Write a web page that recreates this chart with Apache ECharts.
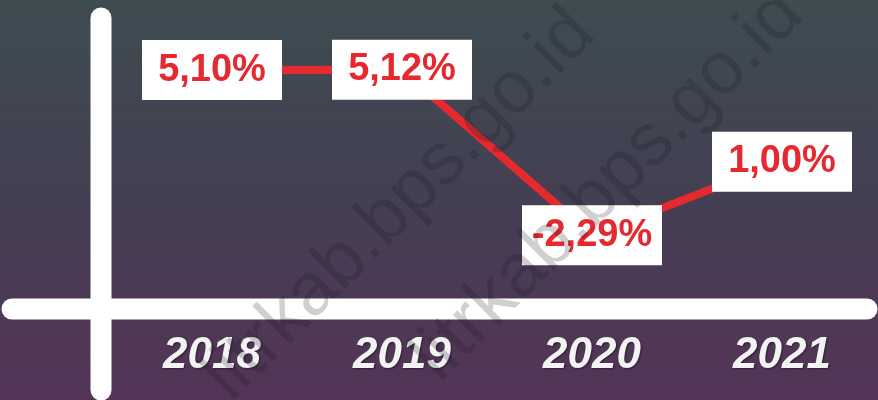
<!DOCTYPE html>
<html>
<head>
<meta charset="utf-8">
<script src="https://cdn.jsdelivr.net/npm/echarts@6/dist/echarts.min.js"></script>
<style>
  html, body { margin: 0; padding: 0; }
  #chart { width: 878px; height: 400px; }
</style>
</head>
<body>
<div id="chart"></div>
<script>
// pertumbuhan ekonomi (%)
var years = ['2018', '2019', '2020', '2021'];
var growth = [5.10, 5.12, -2.29, 1.00];
var watermark = 'litrkab.bps.go.id';

var myChart = echarts.init(document.getElementById('chart'));

function fmt(v) {
  return v.toFixed(2).replace('.', ',') + '%';
}

function wm(x, y) {
  return {
    type: 'text',
    z: 100,
    x: x,
    y: y,
    rotation: Math.PI / 4,
    style: {
      text: watermark,
      fontFamily: 'Liberation Sans',
      fontSize: 74,
      fill: 'rgba(20,20,30,0.2)',
      align: 'center',
      verticalAlign: 'middle'
    }
  };
}

var option = {
  animation: false,
  backgroundColor: new echarts.graphic.LinearGradient(0, 0, 0, 1, [
    { offset: 0, color: '#3d4c51' },
    { offset: 0.5, color: '#443f52' },
    { offset: 1, color: '#543457' }
  ]),
  grid: {
    left: 117,
    right: 1,
    top: 50,
    bottom: 149
  },
  xAxis: {
    type: 'category',
    data: years,
    axisLine: { show: false },
    axisTick: { show: false },
    splitLine: { show: false },
    axisLabel: {
      margin: 83,
      fontFamily: 'Liberation Sans',
      fontSize: 44,
      fontStyle: 'italic',
      fontWeight: 'bold',
      color: '#f3f3f3',
      textShadowColor: 'rgba(0,0,0,0.45)',
      textShadowBlur: 2,
      textShadowOffsetX: 1,
      textShadowOffsetY: 1
    }
  },
  yAxis: {
    type: 'value',
    min: -3,
    max: 6,
    show: false
  },
  series: [
    {
      type: 'line',
      data: growth,
      symbol: 'circle',
      symbolSize: 1,
      itemStyle: { color: '#e6292f' },
      lineStyle: { color: '#e6292f', width: 8 },
      label: {
        show: true,
        position: 'inside',
        formatter: function (p) { return fmt(p.value); },
        fontFamily: 'Liberation Sans',
        fontSize: 38,
        fontWeight: 'bold',
        color: '#e6292f',
        backgroundColor: '#ffffff',
        width: 118,
        align: 'center',
        padding: [11, 11, 11, 11]
      }
    }
  ],
  graphic: [
    {
      type: 'line',
      z: 1,
      shape: { x1: 12, y1: 309, x2: 867, y2: 309 },
      style: { stroke: '#ffffff', lineWidth: 21, lineCap: 'round' }
    },
    {
      type: 'line',
      z: 1,
      shape: { x1: 101, y1: 18, x2: 101, y2: 390 },
      style: { stroke: '#ffffff', lineWidth: 21, lineCap: 'round' }
    },
    wm(400, 205),
    wm(608, 186)
  ]
};

myChart.setOption(option);
window.addEventListener('resize', function () {
  myChart.resize();
});
</script>
</body>
</html>
